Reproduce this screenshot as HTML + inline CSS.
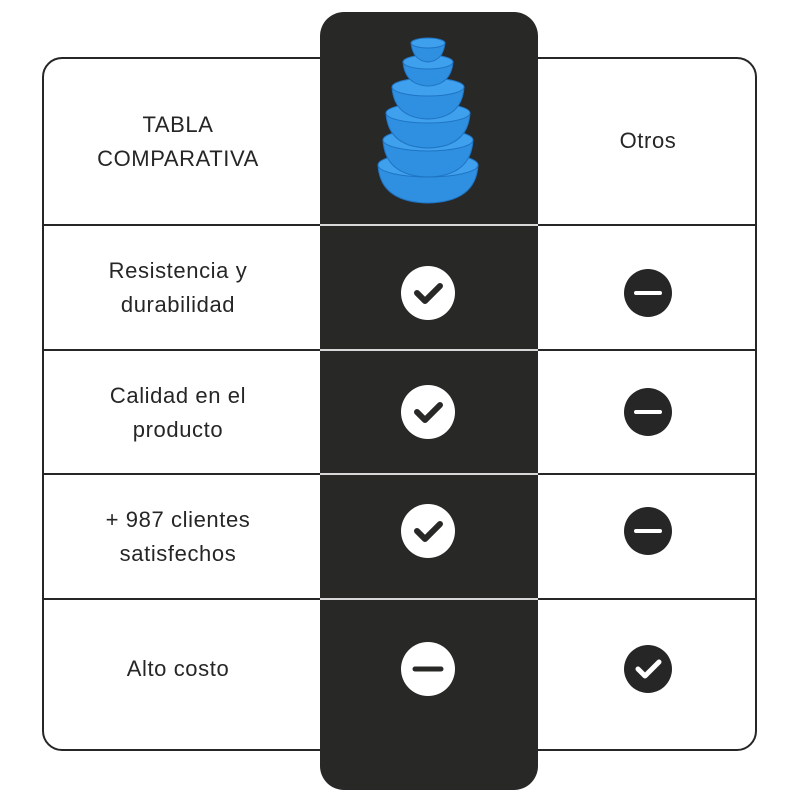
<!DOCTYPE html>
<html><head><style>
body{margin:0;width:800px;height:800px;background:#fff;position:relative;overflow:hidden;font-family:"Liberation Sans",sans-serif;color:#262626}
.box{position:absolute;left:42px;top:57px;width:711px;height:690px;border:2px solid #262626;border-radius:20px}
.hl{position:absolute;left:43px;width:712px;height:2px;background:#262626}
.col{position:absolute;left:320px;top:12px;width:218px;height:778px;background:#282827;border-radius:24px}
.wl{position:absolute;left:320px;width:218px;height:2px;background:#d8d8d8}
.t{position:absolute;left:43px;width:270px;text-align:center;font-size:22px;line-height:34px;color:#262626;letter-spacing:0.6px}
.ic{position:absolute}
</style></head><body>
<div class="box"></div>
<div class="hl" style="top:224px"></div>
<div class="hl" style="top:349px"></div>
<div class="hl" style="top:473px"></div>
<div class="hl" style="top:598px"></div>
<div class="col"></div>
<div class="wl" style="top:224px"></div>
<div class="wl" style="top:349px"></div>
<div class="wl" style="top:473px"></div>
<div class="wl" style="top:598px"></div>
<div class="t" style="top:108px">TABLA<br>COMPARATIVA</div>
<div class="t" style="top:254px">Resistencia y<br>durabilidad</div>
<div class="t" style="top:379px">Calidad en el<br>producto</div>
<div class="t" style="top:503px">+ 987 clientes<br>satisfechos</div>
<div class="t" style="top:652px">Alto costo</div>
<div style="position:absolute;left:560px;width:176px;top:128px;text-align:center;font-size:22px;letter-spacing:0.6px">Otros</div>
<svg class="ic" style="left:0;top:0" width="800" height="800">
<g fill="#2f8fe0" stroke="#1f74c4" stroke-width="1">
<path d="M378 165 Q380 202 428 203 Q476 202 478 165 Z"/><ellipse cx="428" cy="165" rx="50" ry="12" fill="#3fa0ee"/>
<path d="M383 140 Q385 176 428 177 Q471 176 473 140 Z"/><ellipse cx="428" cy="140" rx="45" ry="11" fill="#3fa0ee"/>
<path d="M386 113 Q388 147 428 148 Q468 147 470 113 Z"/><ellipse cx="428" cy="113" rx="42" ry="10" fill="#3fa0ee"/>
<path d="M392 87 Q394 118 428 119 Q462 118 464 87 Z"/><ellipse cx="428" cy="87" rx="36" ry="9" fill="#3fa0ee"/>
<path d="M403 62 Q405 85 428 86 Q451 85 453 62 Z"/><ellipse cx="428" cy="62" rx="25" ry="7" fill="#3fa0ee"/>
<path d="M411 43 Q413 61 428 62 Q443 61 445 43 Z"/><ellipse cx="428" cy="43" rx="17" ry="5" fill="#3fa0ee"/>
</g>
<g>
<circle cx="428" cy="293" r="27" fill="#fff"/><path d="M417 293 L425 301 L440 286" stroke="#282827" stroke-width="6" fill="none" stroke-linecap="round" stroke-linejoin="round"/>
<circle cx="428" cy="412" r="27" fill="#fff"/><path d="M417 412 L425 420 L440 405" stroke="#282827" stroke-width="6" fill="none" stroke-linecap="round" stroke-linejoin="round"/>
<circle cx="428" cy="531" r="27" fill="#fff"/><path d="M417 531 L425 539 L440 524" stroke="#282827" stroke-width="6" fill="none" stroke-linecap="round" stroke-linejoin="round"/>
<circle cx="428" cy="669" r="27" fill="#fff"/><line x1="415" y1="669" x2="441" y2="669" stroke="#282827" stroke-width="5" stroke-linecap="round"/>
</g>
<g>
<circle cx="648" cy="293" r="24" fill="#262626"/><line x1="636" y1="293" x2="660" y2="293" stroke="#fff" stroke-width="4" stroke-linecap="round"/>
<circle cx="648" cy="412" r="24" fill="#262626"/><line x1="636" y1="412" x2="660" y2="412" stroke="#fff" stroke-width="4" stroke-linecap="round"/>
<circle cx="648" cy="531" r="24" fill="#262626"/><line x1="636" y1="531" x2="660" y2="531" stroke="#fff" stroke-width="4" stroke-linecap="round"/>
<circle cx="648" cy="669" r="24" fill="#262626"/><path d="M638 669 L645 676 L659 662" stroke="#fff" stroke-width="5" fill="none" stroke-linecap="round" stroke-linejoin="round"/>
</g>
</svg>
</body></html>
